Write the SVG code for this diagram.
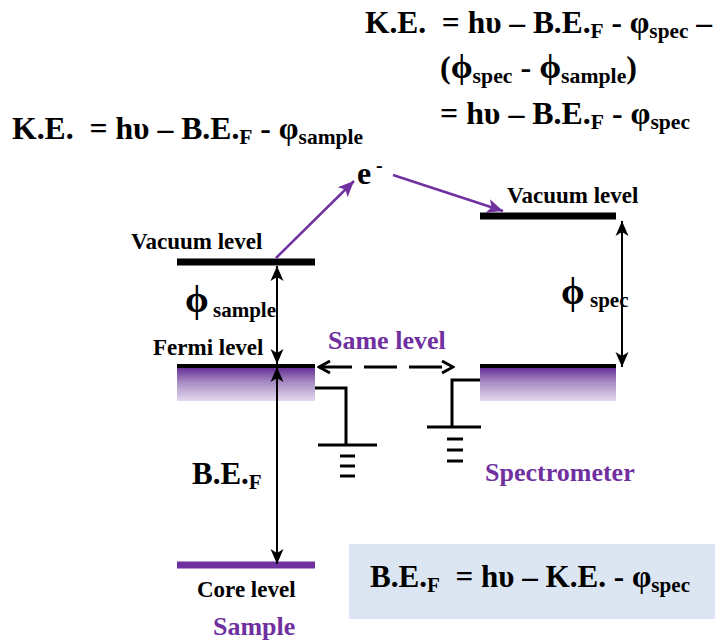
<svg xmlns="http://www.w3.org/2000/svg" width="715" height="640" viewBox="0 0 715 640">
<style>
text{font-family:"Liberation Serif","Times New Roman",serif;font-weight:bold;white-space:pre}
.eq{font-size:31px;fill:#000}
.sub{font-size:21px}
.phi{font-size:34px}
.lbl{font-size:23px;fill:#000}
.pl{font-size:26px;fill:#7030a0}
.blk{stroke:#000;fill:none}
.gnd{stroke:#000;stroke-width:3;fill:none}
</style>
<defs>
<linearGradient id="band" x1="0" y1="0" x2="0" y2="1">
<stop offset="0" stop-color="#5f2292"/>
<stop offset="0.45" stop-color="#a68ac2"/>
<stop offset="1" stop-color="#e4d9ef"/>
</linearGradient>
<marker id="ah" viewBox="-16 -7 17 14" refX="0" refY="0" markerWidth="17" markerHeight="14" markerUnits="userSpaceOnUse" orient="auto-start-reverse">
<path d="M0,0 L-15,-6.5 L-11,0 L-15,6.5 Z" fill="#000"/>
</marker>
<marker id="ahp" viewBox="-17 -8 18 16" refX="0" refY="0" markerWidth="18" markerHeight="16" markerUnits="userSpaceOnUse" orient="auto">
<path d="M0,0 L-16,-7 L-12,0 L-16,7 Z" fill="#7030a0"/>
</marker>
<marker id="chev" viewBox="-14 -8 16 16" refX="0" refY="0" markerWidth="16" markerHeight="16" markerUnits="userSpaceOnUse" orient="auto-start-reverse">
<path d="M-11,-6 L0,0 L-11,6" fill="none" stroke="#000" stroke-width="3"/>
</marker>
</defs>

<g id="equation-top">
<text class="eq" x="365" y="33" textLength="347" lengthAdjust="spacingAndGlyphs">K.E.  = hυ – B.E.<tspan class="sub" dy="5">F</tspan><tspan dy="-5"> - φ</tspan><tspan class="sub" dy="5">spec</tspan><tspan dy="-5"> –</tspan></text>
<text class="eq" x="440" y="78" textLength="197" lengthAdjust="spacingAndGlyphs">(<tspan class="phi">ϕ</tspan><tspan class="sub" dy="5">spec</tspan><tspan dy="-5"> - </tspan><tspan class="phi">ϕ</tspan><tspan class="sub" dy="5">sample</tspan><tspan dy="-5">)</tspan></text>
<text class="eq" x="440" y="124" textLength="250" lengthAdjust="spacingAndGlyphs">= hυ – B.E.<tspan class="sub" dy="5">F</tspan><tspan dy="-5"> - φ</tspan><tspan class="sub" dy="5">spec</tspan></text>
</g>

<g id="equation-left">
<text class="eq" x="12" y="139" textLength="351" lengthAdjust="spacingAndGlyphs">K.E.  = hυ – B.E.<tspan class="sub" dy="5">F</tspan><tspan dy="-5"> - φ</tspan><tspan class="sub" dy="5">sample</tspan></text>
</g>

<g id="electron">
<text x="357" y="184" style="font-size:32px">e</text>
<text x="376" y="172" style="font-size:20px">-</text>
</g>

<g id="sample-vacuum">
<line x1="177" y1="262" x2="315" y2="262" stroke="#000" stroke-width="7"/>
<text class="lbl" x="131" y="249">Vacuum level</text>
</g>

<g id="spec-vacuum">
<line x1="480" y1="216" x2="616" y2="216" stroke="#000" stroke-width="7"/>
<text class="lbl" x="507" y="203">Vacuum level</text>
</g>

<g id="sample-fermi">
<rect x="177" y="366" width="138" height="35" fill="url(#band)"/>
<line x1="177" y1="366" x2="315" y2="366" stroke="#000" stroke-width="4"/>
<text class="lbl" x="153" y="355">Fermi level</text>
</g>

<g id="spec-fermi">
<rect x="480" y="366" width="136" height="35" fill="url(#band)"/>
<line x1="480" y1="366" x2="616" y2="366" stroke="#000" stroke-width="4"/>
</g>

<g id="core-level">
<line x1="177" y1="565" x2="315" y2="565" stroke="#7030a0" stroke-width="7"/>
<text class="lbl" x="197" y="597">Core level</text>
<text class="pl" x="213" y="635">Sample</text>
</g>

<g id="labels">
<text x="185" y="312" style="font-size:38px">ϕ</text>
<text x="213" y="317" style="font-size:21px">sample</text>
<text x="561" y="304" style="font-size:38px">ϕ</text>
<text x="590" y="307" style="font-size:21px">spec</text>
<text class="pl" x="328" y="349">Same level</text>
<text class="eq" x="192" y="484">B.E.<tspan class="sub" dy="5">F</tspan></text>
<text class="pl" x="485" y="481">Spectrometer</text>
</g>

<g id="ground-sample">
<polyline class="gnd" points="315,388 346,388 346,445"/>
<line class="gnd" x1="318" y1="445" x2="377" y2="445"/>
<line class="gnd" x1="340" y1="456" x2="355" y2="456"/>
<line class="gnd" x1="340" y1="466" x2="355" y2="466"/>
<line class="gnd" x1="340" y1="476" x2="355" y2="476"/>
</g>

<g id="ground-spec">
<polyline class="gnd" points="480,380 452,380 452,427"/>
<line class="gnd" x1="427" y1="427" x2="481" y2="427"/>
<line class="gnd" x1="447" y1="439" x2="463" y2="439"/>
<line class="gnd" x1="447" y1="450" x2="463" y2="450"/>
<line class="gnd" x1="447" y1="461" x2="463" y2="461"/>
</g>

<g id="result-box">
<rect x="349" y="544" width="366" height="75" fill="#dce6f2"/>
<text class="eq" x="370" y="587" textLength="320" lengthAdjust="spacingAndGlyphs">B.E.<tspan class="sub" dy="5">F</tspan><tspan dy="-5">  = hυ – K.E. - φ</tspan><tspan class="sub" dy="5">spec</tspan></text>
</g>

<g id="connectors">
<line x1="276" y1="258" x2="354" y2="181" stroke="#7030a0" stroke-width="2.5" marker-end="url(#ahp)"/>
<line x1="393" y1="175" x2="503" y2="211" stroke="#7030a0" stroke-width="2.5" marker-end="url(#ahp)"/>
<line class="blk" x1="277" y1="266" x2="277" y2="364" stroke-width="2" marker-start="url(#ah)" marker-end="url(#ah)"/>
<line class="blk" x1="277" y1="367" x2="277" y2="564" stroke-width="2" marker-start="url(#ah)" marker-end="url(#ah)"/>
<line class="blk" x1="622" y1="221" x2="622" y2="367" stroke-width="2" marker-start="url(#ah)" marker-end="url(#ah)"/>
<line class="blk" x1="319" y1="367" x2="453" y2="367" stroke-width="3" stroke-dasharray="33 12" marker-start="url(#chev)" marker-end="url(#chev)"/>
</g>
</svg>
